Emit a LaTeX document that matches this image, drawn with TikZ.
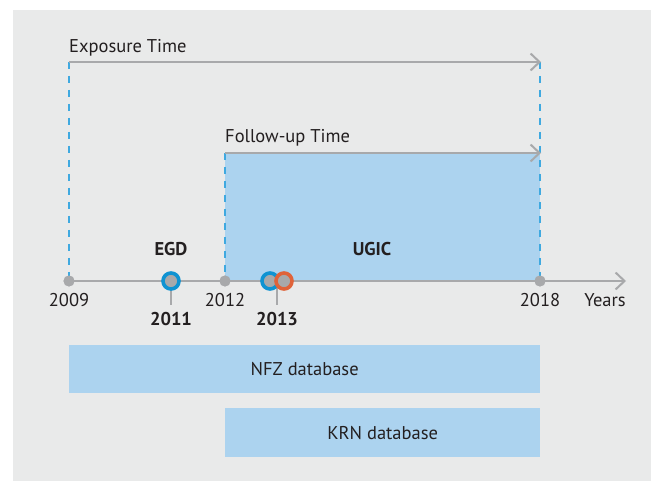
\documentclass[tikz,border=0pt]{standalone}
\usepackage{fontspec}
\setmainfont{PT Sans}
\usetikzlibrary{arrows.meta}
\definecolor{bg}{HTML}{E9EAEA}
\definecolor{boxblue}{HTML}{ACD3EF}
\definecolor{dashblue}{HTML}{3FA9E0}
\definecolor{axisgray}{HTML}{A8A9AB}
\definecolor{ringblue}{HTML}{0F93D2}
\definecolor{ringorange}{HTML}{E0633A}
\definecolor{txt}{HTML}{231F20}
\tikzset{
  axisline/.style={draw=axisgray, line width=2.2pt},
  arrowline/.style={axisline, -{Straight Barb[length=9pt,width=17pt,line width=2pt]}},
  dashline/.style={draw=dashblue, line width=2pt, dash pattern=on 7pt off 7pt},
  gdot/.style={circle, fill=axisgray, inner sep=0pt, minimum size=11pt},
  ring/.style={circle, fill=axisgray, draw=#1, line width=3.6pt, inner sep=0pt, minimum size=16pt},
  lbl/.style={text=txt, inner sep=0pt, anchor=base},
  blbl/.style={lbl, font=\fontsize{18.5}{22}\selectfont\bfseries},
  dbbox/.style={fill=boxblue, text=txt, inner sep=0pt, anchor=north west},
}
\begin{document}
\begin{tikzpicture}[x=1pt,y=-1pt, font=\fontsize{18.5}{22}\selectfont]
\useasboundingbox (0,0) rectangle (651,481);
\fill[bg] (13,10) rectangle (651,481);

% follow-up region
\node[dbbox, minimum width=315pt, minimum height=128pt] (ugicbox) at (225,153) {};

% coordinates
\coordinate (expstart) at (69,62);
\coordinate (expend) at (541,62);
\coordinate (fustart) at (225,153);
\coordinate (fuend) at (541,153);
\coordinate (axisend) at (626,281);
\coordinate (exptop2018) at (540,62);

% dashed guides
\node[gdot] (d2009) at (69,281) {};
\node[gdot] (d2012) at (225,281) {};
\node[gdot] (d2018) at (540,281) {};
\draw[dashline] (expstart) -- (d2009.center);
\draw[dashline] (exptop2018) -- (d2018.center);
\draw[dashline] (fustart) -- (d2012.center);

% arrows
\draw[arrowline] (expstart) -- (expend);
\draw[arrowline] (fustart) -- (fuend);
\draw[arrowline] (d2009.center) -- (axisend);

\node[gdot] at (d2009) {};
\node[gdot] at (d2012) {};
\node[gdot] at (d2018) {};

\node[lbl, anchor=base west] (exptxt) at (69,53) {Exposure Time};
\node[lbl, anchor=base west] (futxt) at (225,143) {Follow-up Time};

% events
\coordinate (t2011) at (171,305);
\coordinate (t2013) at (277,305);
\draw[axisline] (171,281) -- (t2011);
\draw[axisline] (277,281) -- (t2013);
\node[ring=ringblue] (c2011) at (171,281) {};
\node[ring=ringblue] (c2013a) at (270,281) {};
\node[ring=ringorange] (c2013b) at (284,281) {};

\node[blbl] (egd) at (171,256) {EGD};
\node[blbl] (ugic) at (372,256) {UGIC};

\node[lbl] (y2009) at (69,307) {2009};
\node[lbl] (y2012) at (225,307) {2012};
\node[lbl] (y2018) at (540,307) {2018};
\node[lbl] (years) at (605,307) {Years};
\node[blbl] (y2011) at (171,325) {2011};
\node[blbl] (y2013) at (277,325) {2013};

% databases
\node[dbbox, minimum width=471pt, minimum height=48pt] (nfz) at (69,345) {};
\node[lbl, anchor=center] at (nfz.center) {NFZ database};
\node[dbbox, minimum width=315pt, minimum height=49pt] (krn) at (225,408) {};
\node[lbl, anchor=center] at (krn.center) {KRN database};
\end{tikzpicture}
\end{document}
